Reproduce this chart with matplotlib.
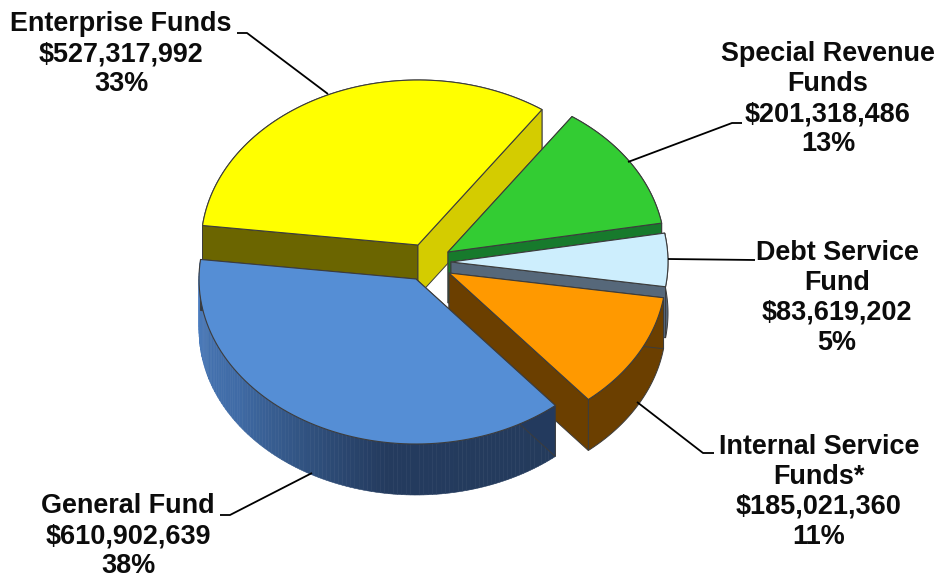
import numpy as np
import matplotlib
matplotlib.use("Agg")
import matplotlib.pyplot as plt
from matplotlib.patches import Polygon

plt.rcParams['font.family'] = ['Liberation Sans', 'DejaVu Sans']

# fund totals, counter-clockwise from the General Fund
funds = ["General Fund", "Internal Service\nFunds*", "Debt Service\nFund",
         "Special Revenue\nFunds", "Enterprise Funds"]
amounts = [610902639, 185021360, 83619202, 201318486, 527317992]
percents = ["38%", "11%", "5%", "13%", "33%"]

START_ANGLE = 173.2
RX, RY = 217, 165
DEPTH = 51

# pulled-out centre of each slice on the canvas
centres = [(416, 279), (449, 273), (451, 262), (448, 252), (418, 245)]
top_colors = ["#558ed5", "#ff9900", "#cdeefd", "#33cc33", "#ffff00"]
wall_colors = ["#233a5e", "#6b3f00", "#56687a", "#177a2c", "#6b6500"]
# face at the start of the sweep, which is the lit one on the Enterprise slice
start_cut_colors = ["#233a5e", "#6b3f00", "#56687a", "#177a2c", "#d4cc00"]

# left-to-right shading of the General Fund rim
rim_angles = [173, 195, 215, 240, 262, 315]
rim_shades = [(0.33, 0.53, 0.80), (0.27, 0.45, 0.69), (0.25, 0.42, 0.65),
              (0.19, 0.32, 0.50), (0.14, 0.23, 0.37), (0.14, 0.23, 0.36)]

# label centre, leader line
label_pos = [(128, 536), (819, 492), (837, 298), (828, 99), (121, 54)]
leaders = [[(220, 515), (230, 515), (312, 473)],
           [(714, 453), (703, 453), (637, 402)],
           [(755, 260), (668, 259)],
           [(742, 123), (732, 123), (628, 162)],
           [(237, 33), (247, 33), (328, 94)]]

EDGE = "#3c3c3c"


def rim(c, a0, a1, n=80):
    t = np.radians(np.linspace(a0, a1, n))
    return np.column_stack([c[0] + RX * np.cos(t), c[1] - RY * np.sin(t)])


def draw_slice(ax, c, a0, a1, top, wall, start_cut, shaded=False):
    arc = rim(c, a0, a1)
    down = np.array([0, DEPTH])
    apex = np.array(c, dtype=float)

    # outer wall
    if shaded:
        angles = np.linspace(a0, a1, 120)
        for s, e in zip(angles[:-1], angles[1:]):
            m = (s + e) / 2
            col = [np.interp(m, rim_angles, [r[i] for r in rim_shades]) for i in range(3)]
            seg = rim(c, s, e, 4)
            ax.add_patch(Polygon(np.vstack([seg, seg[::-1] + down]), fc=col, ec=col, lw=0.4))
    else:
        ax.add_patch(Polygon(np.vstack([arc, arc[::-1] + down]), fc=wall, ec=EDGE, lw=0.7))

    # two cut faces
    ax.add_patch(Polygon([apex, arc[-1], arc[-1] + down, apex + down], fc=wall, ec=EDGE, lw=0.7))
    ax.add_patch(Polygon([apex, arc[0], arc[0] + down, apex + down], fc=start_cut, ec=EDGE, lw=0.7))

    ax.add_patch(Polygon(np.vstack([apex, arc]), fc=top, ec=EDGE, lw=0.8, joinstyle="round"))


fig = plt.figure(figsize=(9.42, 5.8), dpi=100)
ax = fig.add_axes([0, 0, 1, 1])
ax.set_xlim(0, 942)
ax.set_ylim(580, 0)
ax.axis("off")

sweep = np.array(amounts) / sum(amounts) * 360
ends = START_ANGLE + np.cumsum(sweep)
starts = ends - sweep

# back slices first, General Fund last so it sits in front
for i in [4, 3, 2, 1, 0]:
    draw_slice(ax, centres[i], starts[i], ends[i], top_colors[i], wall_colors[i],
               start_cut_colors[i], shaded=(i == 0))

for line in leaders:
    ax.plot(*np.array(line).T, color="black", lw=1.3, solid_capstyle="butt", zorder=5)

for name, amt, pct, pos in zip(funds, amounts, percents, label_pos):
    ax.text(pos[0], pos[1], f"{name}\n${amt:,}\n{pct}", ha="center", va="center",
            fontsize=19.45, fontweight="bold", color="#0c0c0c", linespacing=1.2, zorder=6)

fig.savefig("out.png", dpi=100)
